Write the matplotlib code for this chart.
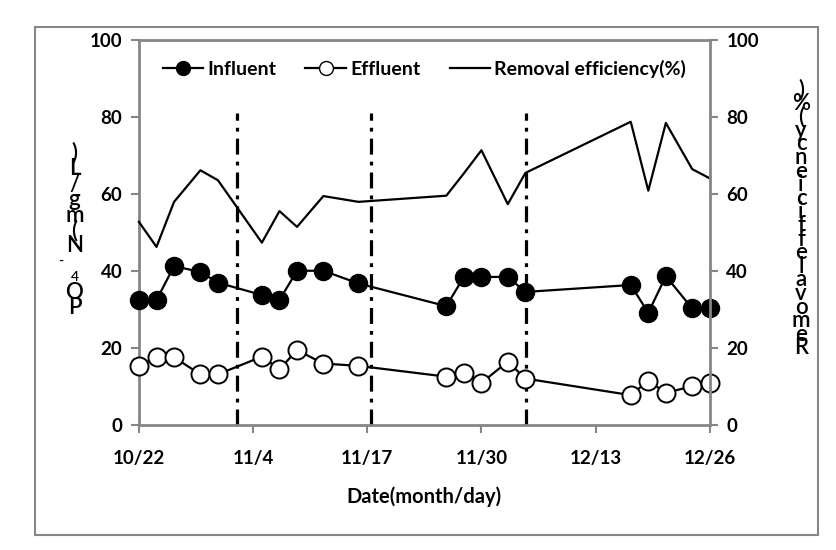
import matplotlib.pyplot as plt
from matplotlib.patches import Rectangle
from matplotlib.lines import Line2D
from datetime import date

# sampling dates (month/day) and measured values
dates = ["10/22", "10/24", "10/26", "10/29", "10/31", "11/5", "11/7", "11/9", "11/12", "11/16",
         "11/26", "11/28", "11/30", "12/3", "12/5", "12/17", "12/19", "12/21", "12/24", "12/26"]
influent = [32.5, 32.5, 41.3, 39.8, 37.0, 33.8, 32.5, 40.1, 40.1, 36.8,
            30.9, 38.5, 38.5, 38.5, 34.6, 36.4, 29.2, 38.7, 30.3, 30.5]
effluent = [15.4, 17.6, 17.6, 13.2, 13.2, 17.8, 14.5, 19.5, 16.0, 15.4,
            12.6, 13.6, 11.0, 16.5, 12.1, 7.8, 11.5, 8.4, 10.1, 11.0]
efficiency = [52.8, 46.3, 58.0, 66.2, 63.6, 47.4, 55.6, 51.5, 59.5, 58.0,
              59.6, 65.4, 71.4, 57.4, 65.5, 78.8, 60.9, 78.5, 66.5, 64.1]
boundary_days = [11.2, 26.4, 44.1]
tick_labels = ["10/22", "11/4", "11/17", "11/30", "12/13", "12/26"]

start = date(2013, 10, 22)


def day_of(s):
    m, d = map(int, s.split("/"))
    return (date(2013, m, d) - start).days


days = [day_of(s) for s in dates]
ticks = [day_of(s) for s in tick_labels]

plt.rcParams['font.family'] = ['Lato', 'DejaVu Sans']
plt.rcParams['font.weight'] = 'bold'
plt.rcParams['axes.labelweight'] = 'bold'
plt.rcParams['font.size'] = 13.5

gray = '#868686'
fig = plt.figure(figsize=(8.37, 5.5), dpi=100)
fig.patches.append(Rectangle((0.042, 0.027), 0.935, 0.924, transform=fig.transFigure,
                             fill=False, edgecolor=gray, lw=1.5))
ax = fig.add_axes([0.166, 0.227, 0.682, 0.700])
ax2 = ax.twinx()

for d in boundary_days:
    ax.plot([d, d], [0, 81], color='black', lw=2.3, linestyle=(0, (5, 2.2, 1.2, 2.2)), zorder=1)

ax.plot(days, influent, '-o', color='black', lw=1.6, ms=13, mfc='black', mec='black',
        zorder=3, clip_on=False)
ax.plot(days, effluent, '-o', color='black', lw=1.6, ms=13, mfc='white', mec='black',
        mew=1.4, zorder=3, clip_on=False)
ax2.plot(days, efficiency, '-', color='black', lw=1.6, clip_on=False)

for a in (ax, ax2):
    a.set_xlim(0, 65)
    a.set_ylim(0, 100)
    a.set_yticks([0, 20, 40, 60, 80, 100])
    for s in a.spines.values():
        s.set_visible(False)
    a.tick_params(length=6, width=1.5, color=gray, pad=6)
ax.spines['left'].set_visible(True)
ax.spines['bottom'].set_visible(True)
ax2.spines['right'].set_visible(True)
ax.spines['top'].set_visible(True)
for name in ('left', 'bottom', 'top'):
    ax.spines[name].set_color(gray)
    ax.spines[name].set_linewidth(2)
ax2.spines['right'].set_color(gray)
ax2.spines['right'].set_linewidth(2)

ax.set_xticks(ticks)
ax.set_xticklabels(tick_labels)
ax.tick_params(axis='x', pad=12)
ax.set_xlabel("Date(month/day)", labelpad=14, fontsize=14.5)

handles = [Line2D([], [], color='black', lw=1.6, marker='o', ms=10, mfc='black'),
           Line2D([], [], color='black', lw=1.6, marker='o', ms=10, mfc='white'),
           Line2D([], [], color='black', lw=1.6)]
ax2.legend(handles, ["Influent", "Effluent", "Removal efficiency(%)"], ncol=3, frameon=False,
           loc='upper center', bbox_to_anchor=(0.5, 0.995), handlelength=2.1,
           handletextpad=0.2, columnspacing=1.5, fontsize=14)

# stacked upright characters for the axis titles
left_chars = ["P", "O", "4", "-", "N", "(", "m", "g", "/", "L", ")"]
y0 = 1 - 308 / 550
for i, c in enumerate(left_chars):
    size = 10 if c in "4-" else 16
    x = 0.072 if c == "-" else 0.089
    fig.text(x, y0 + i * 15.5 / 550, c, ha='center', va='center', fontsize=size,
             fontweight='semibold')

right_chars = list("Removalefficiency(%)")
y0 = 1 - 348 / 550
for i, c in enumerate(right_chars):
    fig.text(0.957, y0 + i * 13.6 / 550, c, ha='center', va='center', fontsize=16,
             fontweight='semibold')

fig.savefig("out.png", dpi=100)
